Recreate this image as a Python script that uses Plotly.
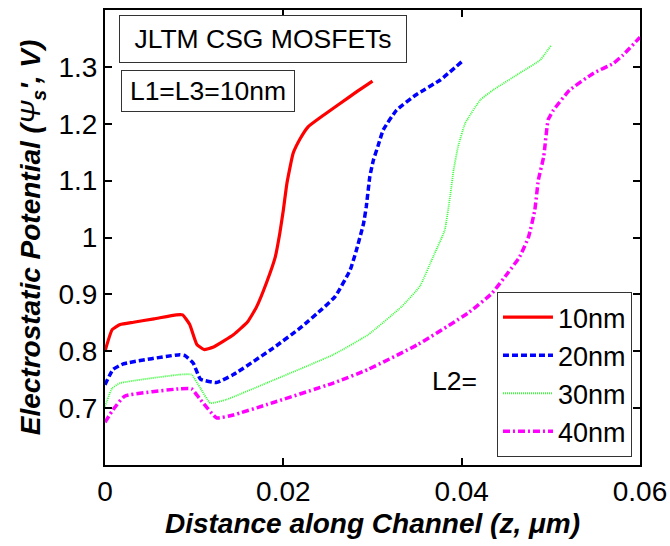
import plotly.graph_objects as go

# Surface potential along the channel for different L2 lengths (L1 = L3 = 10 nm)
labels = ["10nm", "20nm", "30nm", "40nm"]

z_10 = [0, 0.0008, 0.0017, 0.0032, 0.0055, 0.008, 0.0087, 0.0095, 0.0103, 0.0111,
        0.0121, 0.0144, 0.0160, 0.0170, 0.0181, 0.0191, 0.0196, 0.0200, 0.0204,
        0.0211, 0.0219, 0.0228, 0.0245, 0.0264, 0.0282, 0.0300]
psi_10 = [0.800, 0.838, 0.847, 0.851, 0.857, 0.864, 0.864, 0.847, 0.812, 0.803,
          0.807, 0.829, 0.852, 0.878, 0.920, 0.966, 1.007, 1.048, 1.095,
          1.148, 1.174, 1.195, 1.215, 1.236, 1.256, 1.275]

z_20 = [0, 0.0009, 0.0021, 0.0084, 0.0090, 0.0099, 0.0107, 0.0125, 0.0144, 0.0189,
        0.0219, 0.0244, 0.0258, 0.0275, 0.0282, 0.0290, 0.0293, 0.0297, 0.0301,
        0.0306, 0.0312, 0.0327, 0.0349, 0.0376, 0.0400]
psi_20 = [0.741, 0.768, 0.778, 0.794, 0.792, 0.779, 0.751, 0.745, 0.759, 0.806,
          0.841, 0.875, 0.896, 0.943, 0.978, 1.025, 1.054, 1.107, 1.136,
          1.160, 1.189, 1.224, 1.251, 1.277, 1.309]

z_30 = [0, 0.0008, 0.0017, 0.0084, 0.0097, 0.0107, 0.0118, 0.0136, 0.0181, 0.0256,
        0.0295, 0.0333, 0.0353, 0.0368, 0.0381, 0.0387, 0.0391, 0.0396, 0.0404,
        0.0421, 0.0435, 0.0465, 0.0488, 0.0500]
psi_30 = [0.703, 0.735, 0.744, 0.759, 0.759, 0.735, 0.709, 0.715, 0.744, 0.794,
          0.829, 0.879, 0.914, 0.966, 1.013, 1.072, 1.119, 1.160, 1.201,
          1.242, 1.259, 1.289, 1.312, 1.337]

z_40 = [0, 0.0009, 0.0022, 0.0084, 0.0097, 0.0107, 0.0125, 0.0144, 0.0181, 0.0256,
        0.0295, 0.0351, 0.0407, 0.0434, 0.0452, 0.0465, 0.0475, 0.0482, 0.0486,
        0.0492, 0.0497, 0.0503, 0.0521, 0.0548, 0.0570, 0.0581, 0.0600]
psi_40 = [0.675, 0.697, 0.721, 0.734, 0.734, 0.715, 0.683, 0.688, 0.706, 0.744,
          0.768, 0.812, 0.867, 0.902, 0.938, 0.966, 1.001, 1.048, 1.101,
          1.142, 1.207, 1.224, 1.259, 1.289, 1.306, 1.321, 1.352]

x_ticks = [0, 0.02, 0.04, 0.06]
x_ticktext = ["0", "0.02", "0.04", "0.06"]
y_ticks = [0.7, 0.8, 0.9, 1.0, 1.1, 1.2, 1.3]
y_ticktext = ["0.7", "0.8", "0.9", "1", "1.1", "1.2", "1.3"]

FONT = "Liberation Sans, Arial, Helvetica, sans-serif"

styles = [
    dict(color="#ff0000", width=3.2, dash="solid"),
    dict(color="#0000ff", width=3.5, dash="6px,3px"),
    dict(color="#33ff33", width=1.8, dash="1px,1px"),
    dict(color="#ff00ff", width=3.5, dash="7px,3px,2px,3px"),
]

fig = go.Figure()
for name, zs, ps, st in zip(labels, [z_10, z_20, z_30, z_40],
                            [psi_10, psi_20, psi_30, psi_40], styles):
    fig.add_trace(go.Scatter(x=zs, y=ps, mode="lines", name=name,
                             line=dict(color=st["color"], width=st["width"],
                                       dash=st["dash"], shape="spline", smoothing=0.4)))

axis_common = dict(
    showline=True, linecolor="black", linewidth=2, mirror="ticks",
    ticks="inside", ticklen=7, tickwidth=1.5, tickcolor="black",
    showgrid=False, zeroline=False, automargin=False,
    tickfont=dict(family=FONT, size=28, color="black"),
)

fig.update_layout(
    width=670, height=546,
    margin=dict(l=105, r=30, t=10, b=81, autoexpand=False),
    paper_bgcolor="white", plot_bgcolor="white",
    font=dict(family=FONT, color="black"),
    xaxis=dict(range=[0, 0.06], tickvals=x_ticks, ticktext=x_ticktext,
               title=dict(text="<b><i>Distance along Channel (z, μm)</i></b>",
                          font=dict(family=FONT, size=28), standoff=8),
               **axis_common),
    yaxis=dict(range=[0.6, 1.4], tickvals=y_ticks, ticktext=y_ticktext,
               title=dict(text="<b><i>Electrostatic Potential (<span style='font-weight:normal'>Ψ</span><sub>s</sub>', V)</i></b>",
                          font=dict(family=FONT, size=28), standoff=10),
               **axis_common),
    legend=dict(x=0.985, y=0.0176, xanchor="right", yanchor="bottom",
                bgcolor="white", bordercolor="#333333", borderwidth=1,
                font=dict(family=FONT, size=27), itemwidth=50,
                tracegroupgap=0),
    showlegend=True,
)

fig.add_annotation(xref="paper", yref="paper", x=0.026, y=0.989,
                   xanchor="left", yanchor="top",
                   text="JLTM CSG MOSFETs", showarrow=False,
                   font=dict(family=FONT, size=26.5),
                   bordercolor="#333333", borderwidth=1, borderpad=0,
                   width=286, height=46, bgcolor="white")
fig.add_annotation(xref="paper", yref="paper", x=0.030, y=0.868,
                   xanchor="left", yanchor="top",
                   text="L1=L3=10nm", showarrow=False,
                   font=dict(family=FONT, size=26.5),
                   bordercolor="#333333", borderwidth=1, borderpad=0,
                   width=172, height=40, bgcolor="white")
fig.add_annotation(xref="paper", yref="paper", x=0.654, y=0.185,
                   xanchor="center", yanchor="middle",
                   text="L2=", showarrow=False,
                   font=dict(family=FONT, size=26.5))

fig.write_html("out.html")
